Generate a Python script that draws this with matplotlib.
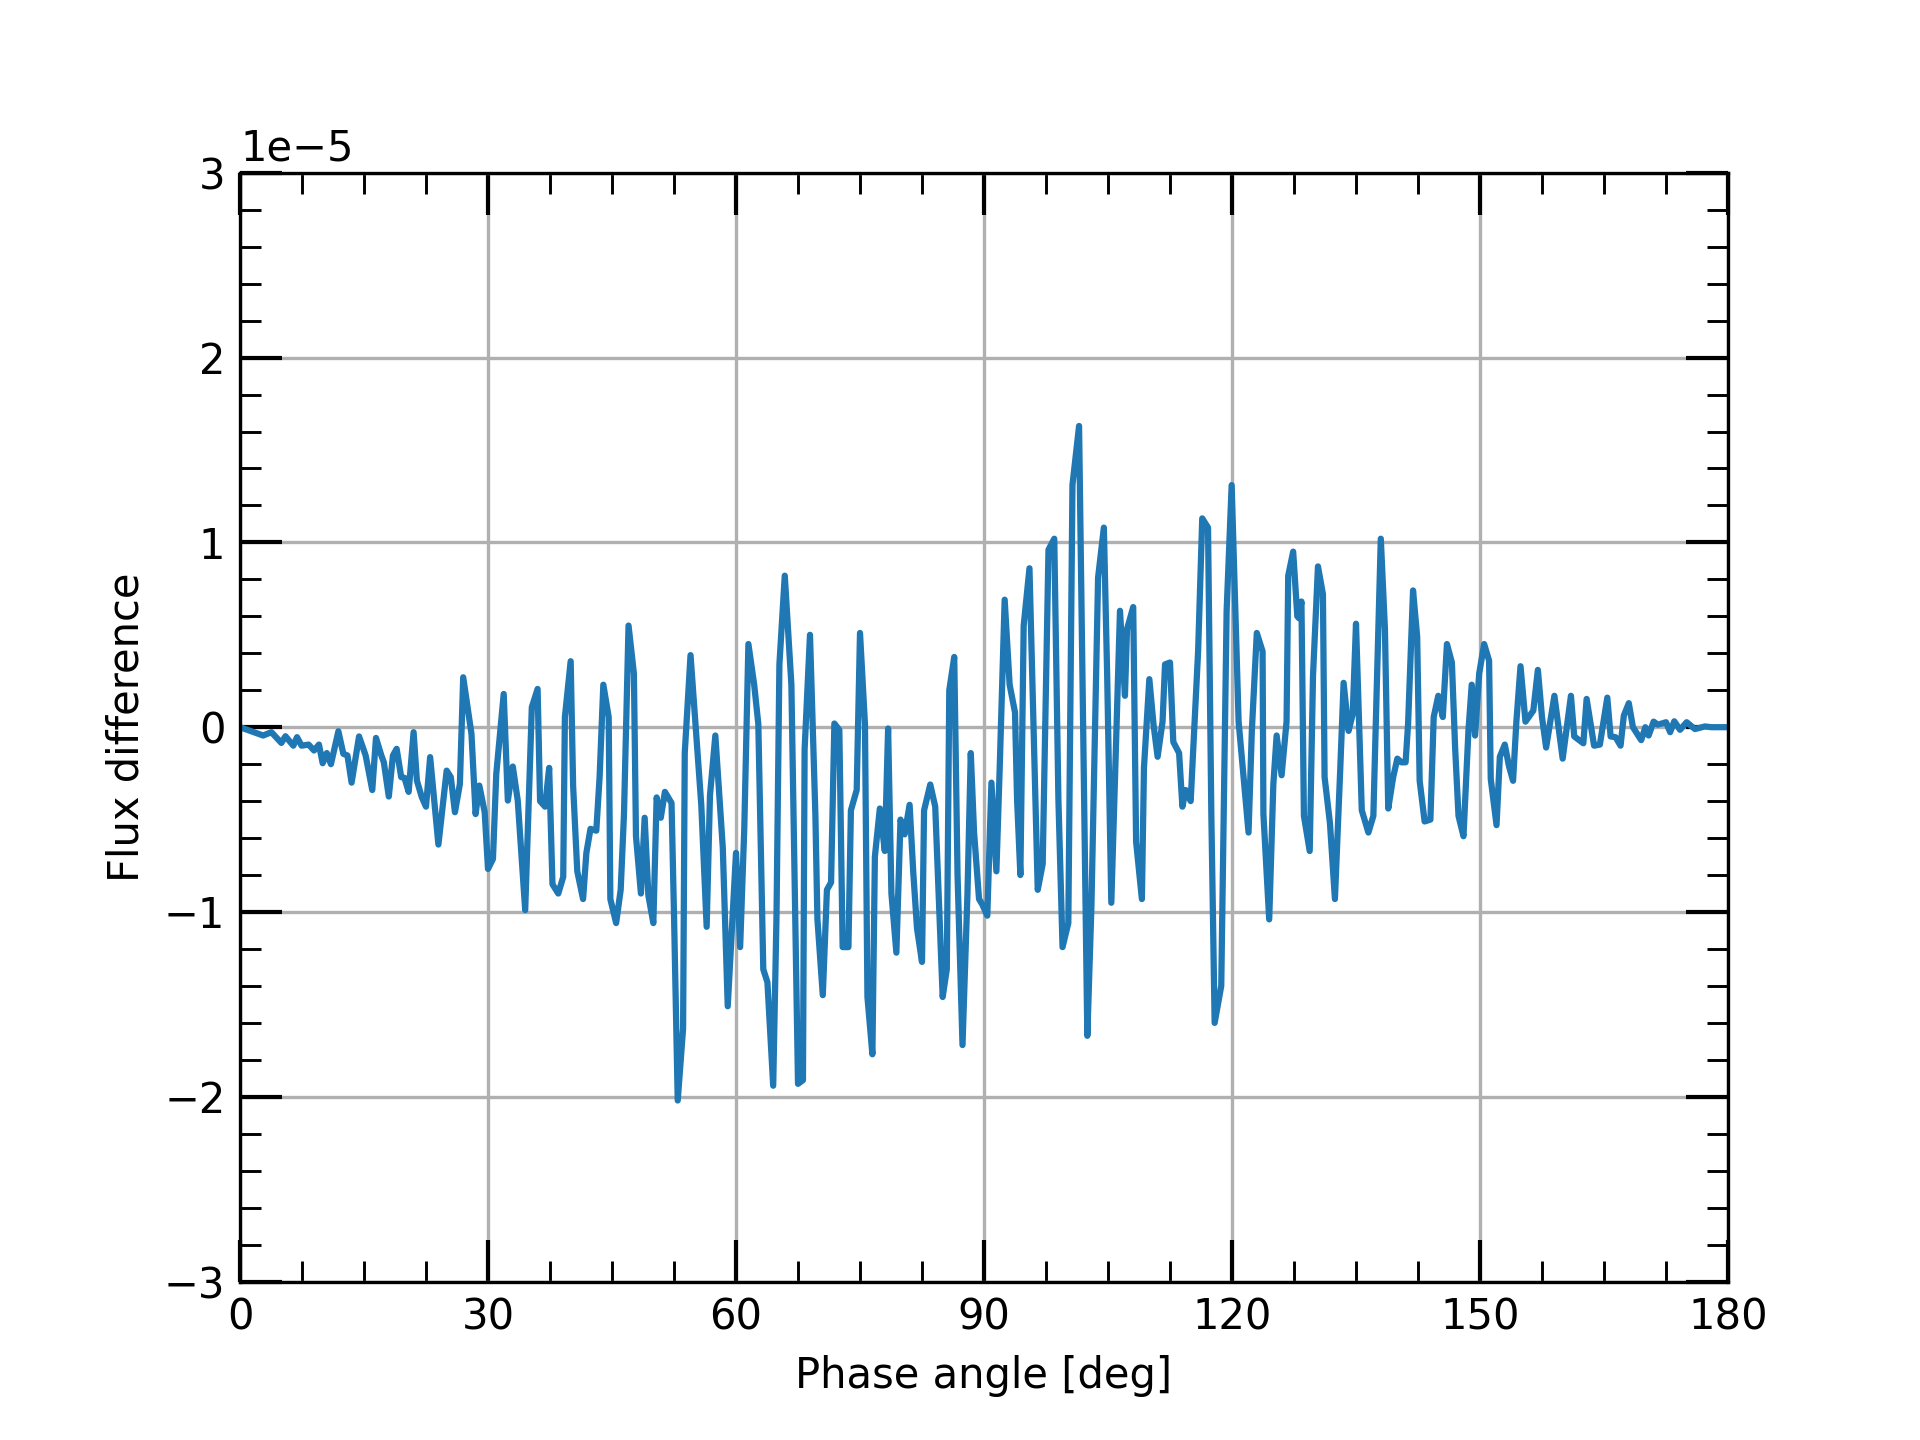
import numpy as np
import matplotlib
matplotlib.use("Agg")
import matplotlib.pyplot as plt
from matplotlib.ticker import MultipleLocator

# phase angle [deg] and flux difference [1e-5]
phase = [0.0, 2.8, 3.8, 5.0, 5.5, 6.45, 6.9, 7.45, 8.3, 8.95, 9.55, 10.0, 10.5, 11.0,
         11.9, 12.5, 13.0, 13.5, 14.4, 15.2, 16.0, 16.45, 17.1, 17.4, 18.0, 18.5, 18.95,
         19.5, 19.9, 20.4, 21.0, 21.4, 22.0, 22.5, 23.0, 24.0, 25.0, 25.5, 26.0, 26.6,
         27.0, 28.0, 28.5, 28.95, 29.6, 30.0, 30.6, 31.0, 31.9, 32.4, 33.0, 33.6, 34.5,
         35.3, 36.0,
         36.3, 36.9, 37.4, 37.8, 38.5, 39.1, 39.3, 40.0, 40.3, 40.8, 41.5, 41.9, 42.4,
         43.1, 43.5, 43.95, 44.6, 44.8, 45.5, 46.05, 46.45, 47.0, 47.65, 47.9, 48.5,
         48.95, 49.4, 50.0, 50.4, 50.9, 51.4, 52.2, 52.5, 52.95, 53.6, 53.8, 54.5, 55.8,
         56.45, 56.85, 57.5, 58.4, 59.0, 60.0, 60.5, 61.0, 61.5, 62.2, 62.7, 63.3, 63.8,
         64.5, 64.9, 65.25, 65.9,
         66.7, 67.5, 68.1, 68.3, 68.95, 69.6, 69.85, 70.5, 71.0, 71.5, 71.9, 72.5, 72.9,
         73.6, 73.9, 74.6, 75.0, 75.6, 75.9, 76.5, 76.8, 77.4, 78.0, 78.4, 78.8, 79.4,
         79.9, 80.4, 81.0, 81.45, 81.9, 82.5, 82.75, 83.5, 84.1, 84.6, 85.0, 85.5, 85.8,
         86.4, 86.8, 87.4, 88.0, 88.4, 88.8, 89.4, 89.8, 90.4, 90.9, 91.5, 91.9, 92.5,
         93.1, 93.75, 94.0, 94.4, 94.8, 95.5, 96.0, 96.5,
         97.1, 97.8, 98.5, 99.0, 99.5, 100.2, 100.7, 101.5, 102.5, 103.0, 103.8, 104.5,
         104.9, 105.4, 106.45, 107.05, 107.3, 108.05, 108.4, 109.1, 109.35, 110.0, 110.5,
         111.0, 111.6, 111.9, 112.5, 112.9, 113.6, 114.0, 114.4, 115.0, 115.9, 116.4,
         117.1, 117.5, 117.9, 118.7, 119.35, 119.96, 120.8, 122.0, 122.4, 123.0, 123.7,
         123.8, 124.5, 125.0, 125.4,
         126.0, 126.6, 126.8, 127.4, 127.9, 128.1, 128.4, 128.7, 129.4, 129.8, 130.4,
         131.0, 131.2, 131.85, 132.45, 133.1, 133.5, 134.1, 134.6, 135.0, 135.7, 136.5,
         137.1, 137.4, 138.0, 138.5, 138.9, 139.5, 140.0, 140.5, 141.0, 141.3, 141.9,
         142.4, 142.7, 143.3, 144.0, 144.4, 144.95, 145.5, 146.0, 146.6, 147.0, 147.4,
         148.0, 148.6, 149.0, 149.4, 149.9, 150.5, 151.1, 151.3, 152.0, 152.4, 153.0,
         153.5, 154.0, 154.4, 154.9, 155.5,
         156.45, 157.0, 157.5, 158.0, 159.0, 160.0, 161.0, 161.4, 162.0, 162.5, 162.9,
         163.8, 164.5, 165.4, 165.8, 166.4, 167.0, 167.4, 168.0, 168.5, 169.5, 170.0,
         170.4, 171.0, 171.5, 172.0, 172.5, 173.0, 173.5, 174.2, 175.0, 176.0, 177.2,
         178.0, 180.0]

flux = [0.0, -0.045, -0.027, -0.085, -0.049, -0.10, -0.054, -0.10, -0.094, -0.126, -0.094,
        -0.195, -0.14, -0.20, -0.022, -0.144, -0.153, -0.30, -0.05, -0.153, -0.34, -0.058,
        -0.153, -0.19, -0.375, -0.153, -0.117, -0.27, -0.274, -0.35, -0.027, -0.289, -0.38,
        -0.43, -0.162, -0.635, -0.235, -0.27, -0.46, -0.307, 0.27, -0.036, -0.47, -0.316,
        -0.46, -0.767, -0.713, -0.253, 0.18, -0.397, -0.213, -0.397, -0.99, 0.108, 0.207,
        -0.40, -0.43, -0.22, -0.85, -0.90, -0.81, 0.055, 0.357, -0.32, -0.78, -0.93, -0.68,
        -0.55, -0.56, -0.27, 0.23, 0.055, -0.93, -1.06, -0.88, -0.47, 0.55, 0.29, -0.59,
        -0.90, -0.49, -0.91, -1.06, -0.38, -0.49, -0.35, -0.41, -1.01, -2.02, -1.63, -0.14,
        0.39, -0.42, -1.08, -0.37, -0.045, -0.65, -1.51, -0.68, -1.19, -0.55, 0.45, 0.23,
        0.017, -1.31, -1.38, -1.94, -1.02, 0.34, 0.82,
        0.23, -1.93, -1.91, -0.12, 0.50, -0.47, -1.04, -1.45, -0.88, -0.84, 0.02, -0.015,
        -1.19, -1.19, -0.45, -0.34, 0.51, 0.017, -1.46, -1.77, -0.70, -0.44, -0.67, -0.007,
        -0.90, -1.22, -0.50, -0.58, -0.42, -0.79, -1.09, -1.27, -0.45, -0.31, -0.43, -1.01,
        -1.46, -1.31, 0.20, 0.38, -0.80, -1.72, -0.90, -0.14, -0.57, -0.93, -0.96, -1.02,
        -0.30, -0.78, -0.22, 0.69, 0.23, 0.08, -0.39, -0.80, 0.55, 0.86, -0.02, -0.88,
        -0.74, 0.96, 1.02, -0.39, -1.19, -1.06, 1.31, 1.63, -1.67, -0.96, 0.81, 1.08, 0.28,
        -0.95, 0.63, 0.17, 0.53, 0.65, -0.62, -0.93, -0.22, 0.26, 0.017, -0.16, 0.03, 0.34,
        0.35, -0.08, -0.14, -0.43, -0.34, -0.40, 0.41, 1.13, 1.08, -0.47, -1.60, -1.40,
        0.63, 1.31, 0.03, -0.57, -0.02, 0.51, 0.41, -0.47, -1.04, -0.31, -0.045,
        -0.26, 0.03, 0.82, 0.95, 0.60, 0.59, 0.68, -0.48, -0.67, 0.28, 0.87, 0.72, -0.27,
        -0.52, -0.93, -0.22, 0.24, -0.02, 0.07, 0.56, -0.45, -0.57, -0.48, 0.03, 1.02, 0.53,
        -0.44, -0.27, -0.17, -0.19, -0.19, 0.017, 0.74, 0.49, -0.29, -0.51, -0.50, 0.055,
        0.17, 0.055, 0.45, 0.35, -0.12, -0.48, -0.59, -0.02, 0.23, -0.045, 0.29, 0.45, 0.36,
        -0.28, -0.53, -0.16, -0.094, -0.21, -0.29, 0.03, 0.33, 0.03,
        0.09, 0.31, 0.054, -0.11, 0.17, -0.17, 0.17, -0.05, -0.07, -0.087, 0.153, -0.10,
        -0.094, 0.16, -0.05, -0.054, -0.10, 0.063, 0.13, 0.0, -0.07, 0.0, -0.045, 0.03,
        0.014, 0.02, 0.027, -0.027, 0.032, -0.014, 0.027, -0.01, 0.004, 0.0, 0.0]

phase = np.array(phase)
flux = np.array(flux) * 1e-5

fig, ax = plt.subplots(figsize=(6.4, 4.8), dpi=300)
ax.plot(phase, flux, color='#1f77b4', lw=1.5)

ax.set_xlim(0, 180)
ax.set_ylim(-3e-5, 3e-5)
ax.xaxis.set_major_locator(MultipleLocator(30))
ax.xaxis.set_minor_locator(MultipleLocator(7.5))
ax.yaxis.set_major_locator(MultipleLocator(1e-5))
ax.yaxis.set_minor_locator(MultipleLocator(0.2e-5))
ax.tick_params(which='both', direction='in', top=True, right=True)
ax.tick_params(which='major', length=10, width=1.0)
ax.tick_params(which='minor', length=5, width=0.7)
ax.grid(True)

ax.set_xlabel('Phase angle [deg]')
ax.set_ylabel('Flux difference')

fig.savefig('out.png')
